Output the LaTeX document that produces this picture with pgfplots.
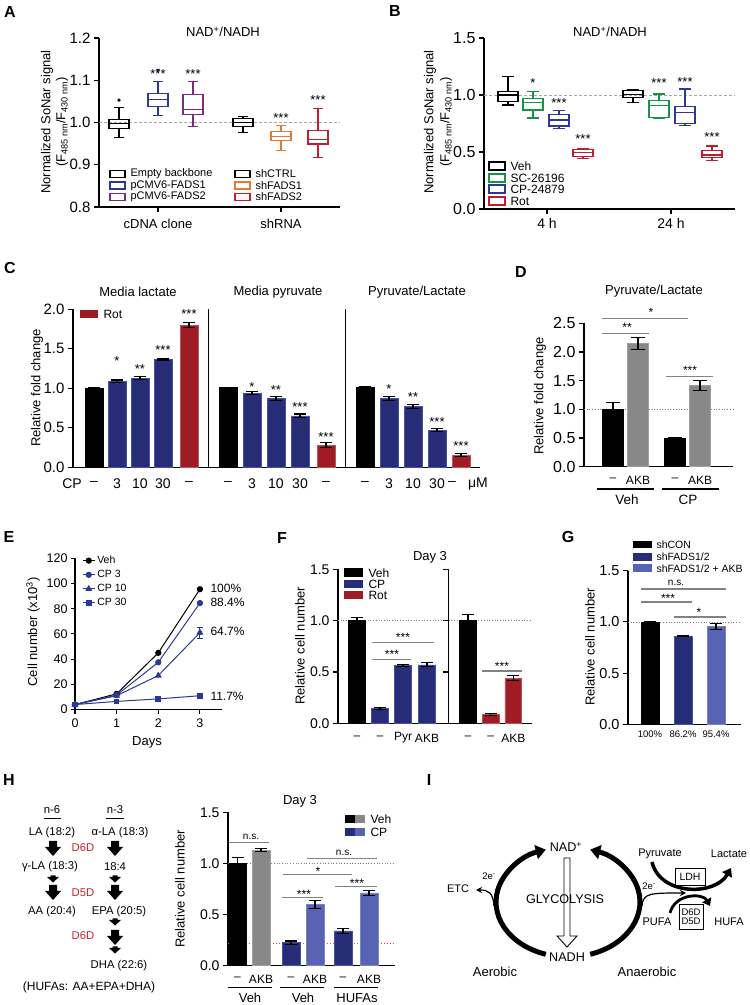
\documentclass[border=0pt]{standalone}
\usepackage{fontspec}
\setmainfont{Liberation Sans}
\usepackage{pgfplots}
\pgfplotsset{compat=1.18}
\usepgfplotslibrary{statistics}
\usetikzlibrary{arrows.meta}

\definecolor{cblue}{RGB}{43,57,150}
\definecolor{cpurple}{RGB}{125,42,126}
\definecolor{corange}{RGB}{227,123,49}
\definecolor{cred}{RGB}{190,30,45}
\definecolor{cgreen}{RGB}{21,148,71}
\definecolor{navy}{RGB}{40,45,120}
\definecolor{navyedge}{RGB}{70,80,160}
\definecolor{lblue}{RGB}{89,99,180}
\definecolor{rbar}{RGB}{160,28,36}
\definecolor{gbar}{RGB}{136,136,136}
\definecolor{ddred}{RGB}{205,35,45}
\definecolor{sigg}{RGB}{130,130,130}

\newcommand{\fs}[1]{\fontsize{#1}{#1}\selectfont}
\newcommand{\bigarr}[2]{\fill (#1-4,#2) -- (#1+4,#2) -- (#1+4,#2+6) -- (#1+8,#2+6) -- (#1,#2+15) -- (#1-8,#2+6) -- (#1-4,#2+6) -- cycle;}
\newcommand{\smarr}[2]{\fill (#1-2.5,#2) -- (#1+2.5,#2) -- (#1+2.5,#2+1.5) -- (#1+6,#2+1.5) -- (#1,#2+7) -- (#1-6,#2+1.5) -- (#1-2.5,#2+1.5) -- cycle;}

\pgfplotsset{
 gp/.style={scale only axis, clip=false, anchor=south west,
   axis x line*=bottom, axis y line*=left,
   axis line style={line width=1.1pt},
   tick align=outside, major tick length=5pt,
   every tick/.style={line width=1.1pt, black},
   /pgf/number format/assume math mode=true,
   tick label style={font=\fs{14}},
 },
 dec1/.style={yticklabel style={/pgf/number format/fixed,/pgf/number format/fixed zerofill,/pgf/number format/precision=1}},
 bx/.style={line width=1.1pt, solid},
 bars/.style={ybar, bar shift=0pt, line width=0.5pt,
   error bars/y dir=both, error bars/y explicit,
   error bars/error bar style={line width=1.1pt, black, solid},
   error bars/error mark options={rotate=90, line width=1.1pt, black, mark size=6pt}},
}

\begin{document}
\begin{tikzpicture}
\useasboundingbox (0pt,0pt) rectangle (750pt,1005pt);

% ================= A
\begin{axis}[gp, dec1, at={(99pt,798pt)}, width=241pt, height=169pt,
  xmin=0, xmax=241, ymin=0.8, ymax=1.2, ytick={0.8,0.9,1.0,1.1,1.2},
  xtick={59,182}, xticklabels={cDNA clone,shRNA},
  xticklabel style={font=\fs{13}, anchor=center, yshift=-12pt},
  yticklabel style={font=\fs{15}},
  boxplot/draw direction=y, boxplot/box extend=20, boxplot/whisker extend=10]
\draw[gray!70, dash pattern=on 3pt off 2pt, line width=0.7pt] (axis cs:0,1) -- (axis cs:241,1);
\addplot[bx, black, boxplot prepared={draw position=20, lower whisker=0.964, lower quartile=0.986, median=0.997, upper quartile=1.008, upper whisker=1.036}] coordinates {};
\addplot[bx, cblue, boxplot prepared={draw position=59, lower whisker=1.016, lower quartile=1.038, median=1.055, upper quartile=1.068, upper whisker=1.096}] coordinates {};
\addplot[bx, cpurple, boxplot prepared={draw position=94, lower whisker=0.990, lower quartile=1.019, median=1.030, upper quartile=1.066, upper whisker=1.096}] coordinates {};
\addplot[bx, black, boxplot prepared={draw position=144, lower whisker=0.976, lower quartile=0.990, median=0.999, upper quartile=1.009, upper whisker=1.014}] coordinates {};
\addplot[bx, corange, boxplot prepared={draw position=182, lower whisker=0.934, lower quartile=0.957, median=0.966, upper quartile=0.978, upper whisker=0.993}] coordinates {};
\addplot[bx, cred, boxplot prepared={draw position=219, lower whisker=0.918, lower quartile=0.949, median=0.959, upper quartile=0.982, upper whisker=1.034}] coordinates {};
\addplot[only marks, mark=*, mark size=1.5pt, black] coordinates {(20,1.053)};
\addplot[only marks, mark=triangle*, mark size=2.2pt, cblue, mark options={rotate=180}] coordinates {(59,1.124)};
\end{axis}

% ================= B
\begin{axis}[gp, dec1, at={(484pt,796pt)}, width=251pt, height=171pt,
  xmin=0, xmax=251, ymin=0, ymax=1.5, ytick={0,0.5,1.0,1.5},
  xtick={63,187}, xticklabels={4 h,24 h},
  xticklabel style={font=\fs{14}, anchor=center, yshift=-9pt},
  yticklabel style={font=\fs{16}},
  boxplot/draw direction=y, boxplot/box extend=20, boxplot/whisker extend=12]
\draw[gray!70, dash pattern=on 3pt off 2pt, line width=0.7pt] (axis cs:0,1) -- (axis cs:251,1);
\addplot[bx, black, boxplot prepared={draw position=24, lower whisker=0.912, lower quartile=0.939, median=1.0, upper quartile=1.032, upper whisker=1.161}] coordinates {};
\addplot[bx, cgreen, boxplot prepared={draw position=49, lower whisker=0.798, lower quartile=0.868, median=0.933, upper quartile=0.968, upper whisker=1.029}] coordinates {};
\addplot[bx, cblue, boxplot prepared={draw position=75, lower whisker=0.705, lower quartile=0.728, median=0.781, upper quartile=0.825, upper whisker=0.862}] coordinates {};
\addplot[bx, cred, boxplot prepared={draw position=99, lower whisker=0.441, lower quartile=0.459, median=0.494, upper quartile=0.524, upper whisker=0.532}] coordinates {};
\addplot[bx, black, boxplot prepared={draw position=149, lower whisker=0.936, lower quartile=0.977, median=1.006, upper quartile=1.038, upper whisker=1.050}] coordinates {};
\addplot[bx, cgreen, boxplot prepared={draw position=175, lower whisker=0.795, lower quartile=0.801, median=0.909, upper quartile=0.950, upper whisker=1.009}] coordinates {};
\addplot[bx, cblue, boxplot prepared={draw position=201, lower whisker=0.731, lower quartile=0.752, median=0.848, upper quartile=0.898, upper whisker=1.053}] coordinates {};
\addplot[bx, cred, boxplot prepared={draw position=228, lower whisker=0.427, lower quartile=0.453, median=0.474, upper quartile=0.512, upper whisker=0.553}] coordinates {};
\end{axis}

% ================= C
\begin{axis}[gp, dec1, at={(73pt,537.7pt)}, width=407pt, height=158pt,
  xmin=0, xmax=407, ymin=0, ymax=2, ytick={0,0.5,1.0,1.5,2.0},
  xtick={21,44,67,90,116,155,179,203,227,253,292,316,340,364,388},
  xticklabels={–,3,10,30,–,–,3,10,30,–,–,3,10,30,\makebox[0pt][c]{\hspace{-18pt}–}},
  xtick style={draw=none},
  xticklabel style={font=\fs{14}, anchor=center, yshift=-11pt},
  yticklabel style={font=\fs{15}}]
\addplot[bars, fill=black, draw=black, bar width=18] coordinates {(21,1.0)+-(0,0.01) (155,1.01)+-(0,0.005) (292,1.01)+-(0,0.015)};
\addplot[bars, fill=navy, draw=navyedge, bar width=18] coordinates {(44,1.09)+-(0,0.015) (67,1.13)+-(0,0.02) (90,1.37)+-(0,0.012) (179,0.94)+-(0,0.015) (203,0.87)+-(0,0.025) (227,0.65)+-(0,0.025) (316,0.875)+-(0,0.025) (340,0.77)+-(0,0.03) (364,0.47)+-(0,0.02)};
\addplot[bars, fill=rbar, draw=rbar!75!white, bar width=18] coordinates {(116,1.80)+-(0,0.03) (253,0.28)+-(0,0.03) (388,0.155)+-(0,0.015)};
\draw[line width=1.1pt] (axis cs:135.7,0) -- (axis cs:135.7,2);
\draw[line width=1.1pt] (axis cs:272.3,0) -- (axis cs:272.3,2);
\end{axis}

% ================= D
\begin{axis}[gp, dec1, at={(584pt,538.3pt)}, width=149pt, height=143.4pt,
  xmin=0, xmax=149, ymin=0, ymax=2.5, ytick={0,0.5,1.0,1.5,2.0,2.5},
  xtick={29,54,91,116}, xticklabels={–,AKB,–,AKB},
  xtick style={draw=none},
  xticklabel style={font=\fs{12}, anchor=center, yshift=-8.5pt},
  yticklabel style={font=\fs{16}}]
\draw[gray, dotted, line width=0.7pt] (axis cs:0,1) -- (axis cs:149,1);
\addplot[bars, fill=black, draw=black, bar width=21, error bars/error mark options={rotate=90, line width=1.1pt, black, mark size=7pt}] coordinates {(29,1.0)+-(0,0.12) (91,0.49)+-(0,0.01)};
\addplot[bars, fill=gbar, draw=gbar!80!white, bar width=21, error bars/error mark options={rotate=90, line width=1.1pt, black, mark size=7pt}] coordinates {(54,2.15)+-(0,0.11) (116,1.42)+-(0,0.09)};
\end{axis}

% ================= E
\begin{axis}[gp, at={(75pt,295.4pt)}, width=147pt, height=151.3pt,
  xmin=0, xmax=3.53, ymin=0, ymax=120, xtick={0,1,2,3}, ytick={0,20,40,60,80,100,120},
  major tick length=4pt,
  tick label style={font=\fs{12.5}},
  xticklabel style={anchor=center, yshift=-10pt},
  legend style={draw=none, fill=none, font=\fs{10.5}, at={(axis cs:0.17,123.5)}, anchor=north west, row sep=1.2pt, inner sep=0pt},
  legend cell align=left,
  legend image code/.code={\draw[mark repeat=2,mark phase=2,#1] plot coordinates {(0pt,0pt) (6pt,0pt) (12pt,0pt)};}]
\addplot[black, line width=1pt, mark=*, mark size=2.6pt] coordinates {(0,4)(1,12.5)(2,45)(3,95.5)};
\addplot[cblue, line width=1pt, mark=*, mark size=2.6pt] coordinates {(0,4)(1,11.5)(2,37.5)(3,84.5)};
\addplot[cblue, line width=1pt, mark=triangle*, mark size=3pt] coordinates {(0,4)(1,11)(2,27)(3,61)};
\addplot[cblue, line width=1pt, mark=square*, mark size=2.3pt] coordinates {(0,4)(1,6.5)(2,8.5)(3,11)};
\addplot[cblue, forget plot, only marks, mark=none, error bars/y dir=both, error bars/y explicit, error bars/error bar style={line width=1pt, cblue}, error bars/error mark options={rotate=90, line width=1pt, cblue, mark size=3pt}] coordinates {(3,61)+-(0,4.5)};
\legend{Veh, CP 3, CP 10, CP 30}
\end{axis}

% ================= F
\begin{axis}[gp, dec1, at={(338pt,281.6pt)}, width=194pt, height=154.1pt,
  xmin=0, xmax=194, ymin=0, ymax=1.5, ytick={0,0.5,1.0,1.5},
  xtick={19,42,65,89,130,152.8,175.3}, xticklabels={–,–,Pyr,AKB,–,–,AKB},
  xtick style={draw=none},
  xticklabel style={font=\fs{12}, anchor=center, yshift=-9.5pt},
  yticklabel style={font=\fs{14}}]
\draw[gray, dotted, line width=0.7pt] (axis cs:0,1) -- (axis cs:194,1);
\addplot[bars, fill=black, draw=black, bar width=16.7] coordinates {(19,1.0)+-(0,0.035) (130,1.0)+-(0,0.06)};
\addplot[bars, fill=navy, draw=navyedge, bar width=16.7] coordinates {(42,0.145)+-(0,0.01) (65,0.565)+-(0,0.01) (89,0.57)+-(0,0.02)};
\addplot[bars, fill=rbar, draw=rbar!75!white, bar width=16.7] coordinates {(152.8,0.085)+-(0,0.01) (175.3,0.44)+-(0,0.025)};
\draw[line width=1.1pt] (axis cs:110.3,0) -- (axis cs:110.3,1.5);
\draw[line width=1.1pt] (axis cs:110.3,1.5) -- ++(-5pt,0pt);
\draw[line width=1.1pt] (axis cs:110.3,1.0) -- ++(-5pt,0pt);
\draw[line width=1.1pt] (axis cs:110.3,0.5) -- ++(-5pt,0pt);
\end{axis}

% ================= G
\begin{axis}[gp, dec1, at={(628pt,280.6pt)}, width=112.7pt, height=153.7pt,
  xmin=0, xmax=112.7, ymin=0, ymax=1.5, ytick={0,0.5,1.0,1.5},
  xtick={22,55,88}, xticklabels={100\%,86.2\%,95.4\%},
  xtick style={draw=none},
  xticklabel style={font=\fs{9.5}, anchor=center, yshift=-5pt},
  yticklabel style={font=\fs{14.5}}]
\draw[gray, dotted, line width=0.7pt] (axis cs:0,1) -- (axis cs:112.7,1);
\addplot[bars, fill=black, draw=black, bar width=18] coordinates {(22,1.0)+-(0,0.005)};
\addplot[bars, fill=navy, draw=navyedge, bar width=18] coordinates {(55,0.862)+-(0,0.006)};
\addplot[bars, fill=lblue, draw=lblue!80!white, bar width=18] coordinates {(88,0.954)+-(0,0.032)};
\end{axis}

% ================= H chart
\begin{axis}[gp, dec1, at={(228pt,39.5pt)}, width=167pt, height=153.2pt,
  xmin=0, xmax=167, ymin=0, ymax=1.5, ytick={0,0.5,1.0,1.5},
  xtick={9.5,33,63,87,115,141}, xticklabels={–,AKB,–,AKB,–,AKB},
  xtick style={draw=none},
  xticklabel style={font=\fs{12}, anchor=center, yshift=-8.5pt},
  yticklabel style={font=\fs{14}}]
\draw[gray, dotted, line width=0.7pt] (axis cs:0,1) -- (axis cs:167,1);
\draw[red!75!white, dotted, line width=1pt] (axis cs:0,0.215) -- (axis cs:167,0.215);
\addplot[bars, fill=black, draw=black, bar width=17.5] coordinates {(9.5,1.0)+-(0,0.06)};
\addplot[bars, fill=gbar, draw=gbar!80!white, bar width=17.5] coordinates {(33,1.13)+-(0,0.015)};
\addplot[bars, fill=navy, draw=navyedge, bar width=17.5] coordinates {(63,0.225)+-(0,0.015) (115,0.34)+-(0,0.025)};
\addplot[bars, fill=lblue, draw=lblue!80!white, bar width=17.5] coordinates {(87,0.60)+-(0,0.04) (141,0.71)+-(0,0.025)};
\end{axis}

% ================= annotations (image pixel coordinates, y downward)
\begin{scope}[x=1pt, y=-1pt, yshift=1005pt]
\foreach \l/\x/\y in {A/10/12, B/395/11, C/10/268, D/521/272, E/9/537, F/282/538, G/568/537, H/9/780, I/429/780}
  \node[font=\bfseries\fs{16}] at (\x,\y) {\l};

% A
\node[font=\fs{13}] at (223,32) {NAD\textsuperscript{+}/NADH};
\node[font=\fs{13}, rotate=90] at (47,122) {Normalized SoNar signal};
\node[font=\fs{13}, rotate=90] at (62,122) {(F\textsubscript{485 nm}/F\textsubscript{430 nm})};
\foreach \x/\y in {158/74, 193/74, 281/118, 318/100} \node[font=\fs{13}] at (\x,\y) {***};
\draw[line width=1.1pt] (110,170.5) rectangle (125,177.5);
\draw[line width=1.1pt, cblue] (110,182) rectangle (125,189);
\draw[line width=1.1pt, cpurple] (110,193.5) rectangle (125,200.5);
\draw[line width=1.1pt] (235,170.5) rectangle (250,177.5);
\draw[line width=1.1pt, corange] (235,182) rectangle (250,189);
\draw[line width=1.1pt, cred] (235,193.5) rectangle (250,200.5);
\node[font=\fs{11}, anchor=west] at (127,174) {Empty backbone};
\node[font=\fs{11}, anchor=west] at (127,185.5) {pCMV6-FADS1};
\node[font=\fs{11}, anchor=west] at (127,197) {pCMV6-FADS2};
\node[font=\fs{11}, anchor=west] at (252,174) {shCTRL};
\node[font=\fs{11}, anchor=west] at (252,185.5) {shFADS1};
\node[font=\fs{11}, anchor=west] at (252,197) {shFADS2};

% B
\node[font=\fs{13}] at (610,32) {NAD\textsuperscript{+}/NADH};
\node[font=\fs{13}, rotate=90] at (430,122) {Normalized SoNar signal};
\node[font=\fs{13}, rotate=90] at (446,122) {(F\textsubscript{485 nm}/F\textsubscript{430 nm})};
\node[font=\fs{13}] at (533,83) {*};
\foreach \x/\y in {559/103, 583/139, 659/83, 685/82, 712/137} \node[font=\fs{13}] at (\x,\y) {***};
\draw[line width=1.1pt] (489,162) rectangle (505,170);
\draw[line width=1.1pt, cgreen] (489,174) rectangle (505,182);
\draw[line width=1.1pt, cblue] (489,185) rectangle (505,193);
\draw[line width=1.1pt, cred] (489,197) rectangle (505,205);
\node[font=\fs{12}, anchor=west] at (507,166) {Veh};
\node[font=\fs{12}, anchor=west] at (507,178) {SC-26196};
\node[font=\fs{12}, anchor=west] at (507,189) {CP-24879};
\node[font=\fs{12}, anchor=west] at (507,201) {Rot};

% C
\node[font=\fs{13}] at (138,292) {Media lactate};
\node[font=\fs{13}] at (278,292) {Media pyruvate};
\node[font=\fs{13}] at (417,292) {Pyruvate/Lactate};
\node[font=\fs{13}, rotate=90] at (37,388) {Relative fold change};
\node[font=\fs{14}] at (72,484) {CP};
\node[font=\fs{14}] at (478,484) {μM};
\fill[rbar] (80,310) rectangle (98,318);
\node[font=\fs{12}, anchor=west] at (100,314) {Rot};
\node[font=\fs{13}] at (117,361) {*}; \node[font=\fs{13}] at (140,369) {**};
\node[font=\fs{13}] at (163,350) {***}; \node[font=\fs{13}] at (189,314) {***};
\node[font=\fs{13}] at (252,387) {*}; \node[font=\fs{13}] at (276,390) {**};
\node[font=\fs{13}] at (300,407.5) {***}; \node[font=\fs{13}] at (326,437.5) {***};
\node[font=\fs{13}] at (389,389) {*}; \node[font=\fs{13}] at (413,397) {**};
\node[font=\fs{13}] at (437,422.5) {***}; \node[font=\fs{13}] at (461,446) {***};

% D
\node[font=\fs{13}] at (654,291) {Pyruvate/Lactate};
\node[font=\fs{13}, rotate=90] at (540,396) {Relative fold change};
\draw[line width=1.1pt] (597,489) -- (654,489);
\draw[line width=1.1pt] (662,489) -- (719,489);
\node[font=\fs{13.5}] at (627,500) {Veh};
\node[font=\fs{13.5}] at (688,500) {CP};
\draw[sigg, line width=1.1pt] (602,318.3) -- (688,318.3);
\draw[sigg, line width=1.1pt] (602,333.3) -- (649,333.3);
\draw[sigg, line width=1.1pt] (666,376.7) -- (713,376.7);
\node[font=\fs{12}] at (651,312) {*};
\node[font=\fs{12}] at (627,327) {**};
\node[font=\fs{12}] at (690,370) {***};

% E
\node[font=\fs{13}, rotate=90] at (33,632) {Cell number (x10\textsuperscript{3})};
\node[font=\fs{13}] at (147,742) {Days};
\node[font=\fs{12}, anchor=west] at (207,588) {100\%};
\node[font=\fs{12}, anchor=west] at (207,602) {88.4\%};
\node[font=\fs{12}, anchor=west] at (207,631) {64.7\%};
\node[font=\fs{12}, anchor=west] at (207,696) {11.7\%};

% F
\node[font=\fs{13}] at (430,557) {Day 3};
\node[font=\fs{13}, rotate=90] at (300,646) {Relative cell number};
\fill (344,568.5) rectangle (363,577);
\fill[navy] (344,580) rectangle (363,588);
\fill[rbar] (344,591.5) rectangle (363,599.5);
\node[font=\fs{12}, anchor=west] at (365,573) {Veh};
\node[font=\fs{12}, anchor=west] at (365,584) {CP};
\node[font=\fs{12}, anchor=west] at (365,595.5) {Rot};
\draw[sigg, line width=1.1pt] (372,642.7) -- (434,642.7);
\draw[sigg, line width=1.1pt] (372,659.3) -- (411,659.3);
\draw[sigg, line width=1.1pt] (482,671) -- (522,671);
\node[font=\fs{12}] at (403,637) {***};
\node[font=\fs{12}] at (392,654) {***};
\node[font=\fs{12}] at (502,666) {***};

% G
\node[font=\fs{13}, rotate=90] at (590,647) {Relative cell number};
\fill (633,541) rectangle (652,548.5);
\fill[navy] (633,553) rectangle (652,561);
\fill[lblue] (633,564.5) rectangle (652,572);
\node[font=\fs{10.5}, anchor=west] at (653,544.5) {shCON};
\node[font=\fs{10.5}, anchor=west] at (653,557) {shFADS1/2};
\node[font=\fs{10.5}, anchor=west] at (653,568.5) {shFADS1/2 + AKB};
\draw[sigg, line width=1.1pt] (641,589) -- (726,589);
\draw[sigg, line width=1.1pt] (641,602) -- (692,602);
\draw[sigg, line width=1.1pt] (674,617) -- (726,617);
\node[font=\fs{10}] at (676,583) {n.s.};
\node[font=\fs{12}] at (668,598) {***};
\node[font=\fs{12}] at (699,612) {*};

% H chart annotations
\node[font=\fs{13}] at (300,801) {Day 3};
\node[font=\fs{13}, rotate=90] at (180,889) {Relative cell number};
\fill (345,815) rectangle (355,823);
\fill[gbar] (355,815) rectangle (365,823);
\fill[navy] (345,828) rectangle (355,836);
\fill[lblue] (355,828) rectangle (365,836);
\node[font=\fs{12}, anchor=west] at (367,819) {Veh};
\node[font=\fs{12}, anchor=west] at (367,832) {CP};
\draw[sigg, line width=1.1pt] (229,842.7) -- (269,842.7);
\draw[sigg, line width=1.1pt] (307,858.3) -- (377,858.3);
\draw[sigg, line width=1.1pt] (283,874.3) -- (352,874.3);
\draw[sigg, line width=1.1pt] (335,886.7) -- (377,886.7);
\draw[sigg, line width=1.1pt] (282,897.7) -- (323,897.7);
\node[font=\fs{10}] at (251,837) {n.s.};
\node[font=\fs{10}] at (344,853) {n.s.};
\node[font=\fs{12}] at (318,871) {*};
\node[font=\fs{12}] at (357,883) {***};
\node[font=\fs{12}] at (304,894) {***};
\draw[line width=1.1pt] (228,987.3) -- (272,987.3);
\draw[line width=1.1pt] (280,987.3) -- (324,987.3);
\draw[line width=1.1pt] (334,987.3) -- (378,987.3);
\node[font=\fs{13}] at (250,998) {Veh};
\node[font=\fs{13}] at (303,998) {Veh};
\node[font=\fs{13}] at (357,998) {HUFAs};

% H diagram
\node[font=\fs{11.3}] at (52,810) {n-6};
\draw[line width=0.9pt] (44,818) -- (61,818);
\node[font=\fs{11.3}] at (115,810) {n-3};
\draw[line width=0.9pt] (106,818) -- (124,818);
\node[font=\fs{11.3}] at (52,833) {LA (18:2)};
\node[font=\fs{11.3}] at (120,833) {α-LA (18:3)};
\node[font=\fs{11.3}] at (50,867) {γ-LA (18:3)};
\node[font=\fs{11.3}] at (115,867) {18:4};
\node[font=\fs{11.3}] at (52,912) {AA (20:4)};
\node[font=\fs{11.3}] at (119,912) {EPA (20:5)};
\node[font=\fs{11.3}] at (119,966) {DHA (22:6)};
\node[font=\fs{11.3}, ddred] at (83,848) {D6D};
\node[font=\fs{11.3}, ddred] at (83,893) {D5D};
\node[font=\fs{11.3}, ddred] at (83,936) {D6D};
\node[font=\fs{12}] at (89,987) {(HUFAs: AA+EPA+DHA)};
\bigarr{53}{841}
\bigarr{115}{841}
\smarr{53}{875.5}
\smarr{115}{875.5}
\bigarr{53}{885}
\bigarr{115}{885}
\smarr{115}{918.5}
\bigarr{115}{930}
\smarr{115}{946.5}

% I diagram
\draw[line width=0.9pt, fill=white] (564,858) -- (570,858) -- (570,936) -- (577,936) -- (567,947) -- (557,936) -- (564,936) -- cycle;
\node[font=\fs{12.6}] at (565,899) {GLYCOLYSIS};
\draw[line width=5pt, -{Triangle[length=10pt,width=14pt]}] (545.8,954.3) arc[start angle=108, end angle=252, x radius=72, y radius=55];
\draw[line width=5pt, -{Triangle[length=10pt,width=14pt]}] (590.2,954.3) arc[start angle=72, end angle=-72, x radius=72, y radius=55];
\node[font=\fs{12.6}] at (566,847) {NAD\textsuperscript{+}};
\node[font=\fs{12.6}, fill=white, inner sep=1pt] at (567,957) {NADH};
\draw[line width=1.2pt, -{Stealth[length=6pt,width=6pt]}] (494,906) .. controls (493,893) and (489,890) .. (476,890);
\node[font=\fs{11}] at (458,889) {ETC};
\node[font=\fs{9.5}] at (489,876) {2e\textsuperscript{-}};
\draw[line width=1.2pt, -{Stealth[length=6pt,width=6pt]}] (642,906) .. controls (643,893) and (650,893) .. (686,893);
\node[font=\fs{9.5}] at (649,886) {2e\textsuperscript{-}};
\node[font=\fs{13}] at (495,972) {Aerobic};
\node[font=\fs{13}] at (647,972) {Anaerobic};
\draw[line width=3.5pt, -{Triangle[length=8pt,width=11pt]}] (652,862) .. controls (660,896) and (715,896) .. (731,868);
\draw[line width=0.9pt, fill=white] (675,868) rectangle (705,885);
\node[font=\fs{10.5}] at (690,876.5) {LDH};
\draw[line width=2.8pt, -{Triangle[length=7pt,width=10pt]}] (670,913) .. controls (675,893) and (703,893) .. (710,906);
\draw[line width=0.9pt, fill=white] (679,904) rectangle (703,929);
\node[font=\fs{9.5}, align=center, inner sep=0pt] at (691,916.5) {D6D\\[-1pt]D5D};
\node[font=\fs{11}] at (660,854) {Pyruvate};
\node[font=\fs{11}] at (729,854) {Lactate};
\node[font=\fs{11}] at (657,922) {PUFA};
\node[font=\fs{11}] at (729,922) {HUFA};
\end{scope}
\end{tikzpicture}
\end{document}
